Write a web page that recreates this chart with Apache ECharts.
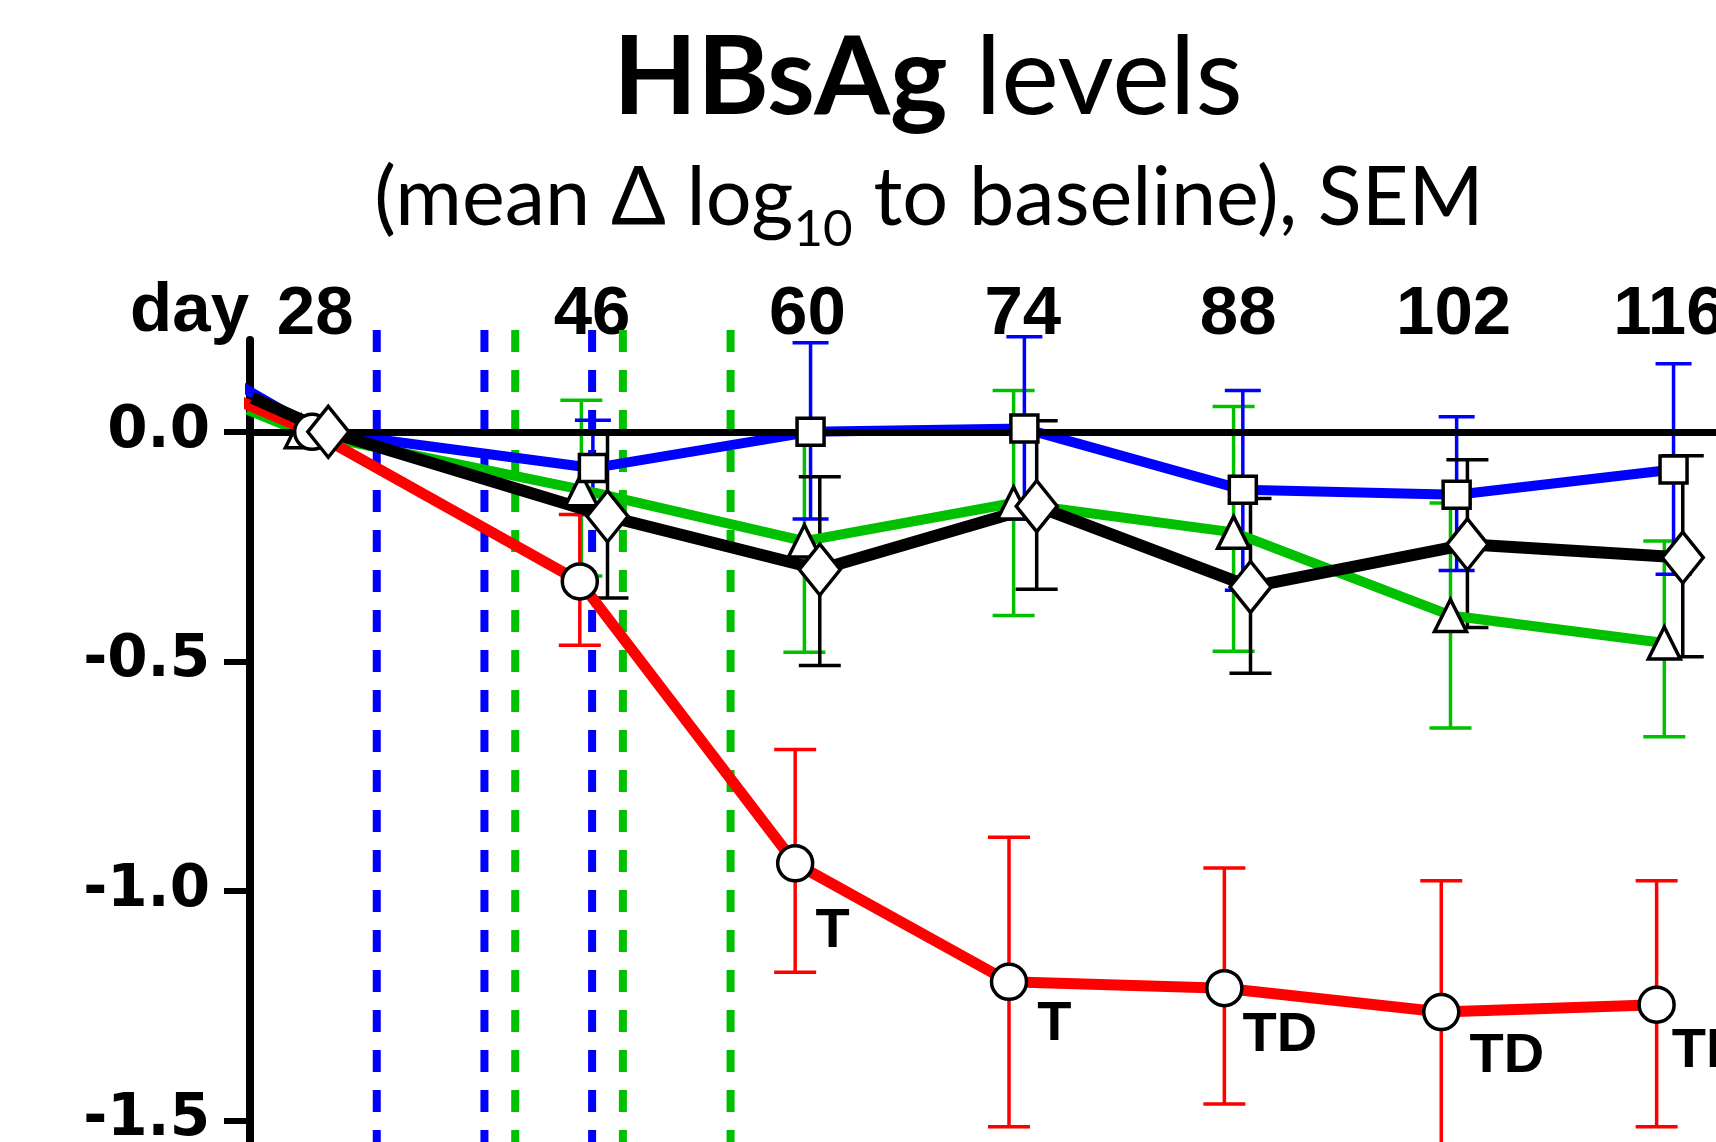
<!DOCTYPE html>
<html>
<head>
<meta charset="utf-8">
<style>
html, body { margin: 0; padding: 0; background: #fff; }
#chart { width: 1716px; height: 1142px; }
</style>
<script src="https://cdn.jsdelivr.net/npm/echarts@6.0.0/dist/echarts.min.js"></script>
</head>
<body>
<div id="chart"></div>
<script>
// ---- data ----
// day labels on the top axis
var dayTicks = [28, 46, 60, 74, 88, 102, 116];
// y labels + minor ticks
var yMajor = [0, -0.5, -1.0, -1.5];
var yMinor = [0.2, 0.1, -0.1, -0.2, -0.3, -0.4, -0.6, -0.7, -0.8, -0.9, -1.1, -1.2, -1.3, -1.4];

// vertical dashed lines (days)
var blueDashDays = [32, 39, 46];
var greenDashDays = [41, 48, 55];

// first point of every group is where the line comes in from the left (no marker)
var redX  = [23.2, 27.8, 45.2, 59.2, 73.1, 87.1, 101.2, 115.2];
var redY  = [0.065, 0, -0.326, -0.94, -1.198, -1.212, -1.264, -1.248];
var redHi = [null, null, -0.18, -0.692, -0.883, -0.95, -0.978, -0.978];
var redLo = [null, null, -0.465, -1.177, -1.514, -1.464, -1.56, -1.514];
var redTags = ['', '', '', 'T', 'T', 'TD', 'TD', 'TD'];

var blueX  = [23.0, 28.3, 46.05, 60.2, 74.1, 88.3, 102.2, 116.3];
var blueY  = [0.102, 0, -0.079, 0.0, 0.007, -0.126, -0.137, -0.082];
var blueHi = [null, null, 0.025, 0.194, 0.207, 0.09, 0.033, 0.148];
var blueLo = [null, null, -0.18, -0.19, -0.19, -0.345, -0.302, -0.31];

var greenX  = [23.6, 27.1, 45.3, 59.8, 73.4, 87.7, 101.8, 115.7];
var greenY  = [0.048, 0, -0.126, -0.238, -0.155, -0.219, -0.40, -0.46];
var greenHi = [null, null, 0.069, 0.0, 0.09, 0.055, -0.155, -0.238];
var greenLo = [null, null, -0.314, -0.48, -0.40, -0.478, -0.645, -0.664];

var blackX  = [23.9, 28.85, 47.0, 60.8, 74.9, 88.8, 102.9, 116.9];
var blackY  = [0.074, 0, -0.184, -0.30, -0.162, -0.338, -0.245, -0.274];
var blackHi = [null, null, -0.005, -0.098, 0.024, -0.145, -0.061, -0.052];
var blackLo = [null, null, -0.362, -0.509, -0.343, -0.526, -0.426, -0.49];

// ---- chart ----
var chart = echarts.init(document.getElementById('chart'));

var RED = '#ff0000', BLUE = '#0000ff', GREEN = '#00c000', BLACK = '#000000';
var tickFont = 'Liberation Sans';
var tagOffsets = [null, null, null, [1, 68], [9, 43], [-1, 47], [9, 44], [-4, 47]];

function pairs(xs, ys) {
  return xs.map(function (x, i) { return [x, ys[i]]; });
}

function dashSeries(day, color) {
  return {
    type: 'line', silent: true, clip: false, z: 1, symbol: 'none', animation: false,
    data: [[day, 0.222], [day, -1.6]],
    lineStyle: { color: color, width: 8, type: [22, 18], cap: 'butt' }
  };
}

function errSeries(xs, lo, hi, color, cap) {
  var data = [];
  for (var i = 0; i < xs.length; i++) {
    if (lo[i] != null) data.push([xs[i], lo[i], hi[i]]);
  }
  return {
    type: 'custom', silent: true, z: 3, animation: false,
    encode: { x: 0, y: [1, 2] },
    data: data,
    renderItem: function (params, api) {
      var x = api.value(0);
      var a = api.coord([x, api.value(1)]);
      var b = api.coord([x, api.value(2)]);
      var h = cap / 2;
      var st = { stroke: color, lineWidth: 3.5 };
      return {
        type: 'group',
        children: [
          { type: 'line', shape: { x1: a[0], y1: a[1], x2: b[0], y2: b[1] }, style: st },
          { type: 'line', shape: { x1: a[0] - h, y1: a[1], x2: a[0] + h, y2: a[1] }, style: st },
          { type: 'line', shape: { x1: b[0] - h, y1: b[1], x2: b[0] + h, y2: b[1] }, style: st }
        ]
      };
    }
  };
}

function lineSeries(xs, ys, color, width) {
  return {
    type: 'line', silent: true, clip: false, z: 4, symbol: 'none', animation: false,
    data: pairs(xs, ys),
    lineStyle: { color: color, width: width }
  };
}

function markSeries(xs, ys, symbol, size, tags) {
  var data = [];
  for (var i = 1; i < xs.length; i++) {
    var item = { value: [xs[i], ys[i]] };
    if (tags && tags[i]) {
      item.label = {
        show: true, formatter: tags[i], position: 'right', distance: 0,
        offset: tagOffsets[i], align: 'left', verticalAlign: 'middle',
        color: '#000', fontFamily: tickFont, fontWeight: 'bold', fontSize: 56
      };
    }
    data.push(item);
  }
  return {
    type: 'scatter', silent: true, clip: false, z: 5, animation: false,
    symbol: symbol, symbolSize: size,
    itemStyle: { color: '#fff', borderColor: '#000', borderWidth: 3.5, opacity: 1 },
    data: data
  };
}

var series = [];
blueDashDays.forEach(function (d) { series.push(dashSeries(d, BLUE)); });
greenDashDays.forEach(function (d) { series.push(dashSeries(d, GREEN)); });
// zero line
series[0].markLine = {
  silent: true, symbol: 'none', animation: false, label: { show: false },
  lineStyle: { color: '#000', width: 7, type: 'solid' },
  data: [{ yAxis: 0 }]
};

series.push(errSeries(greenX, greenLo, greenHi, GREEN, 42));
series.push(errSeries(blueX, blueLo, blueHi, BLUE, 36));
series.push(errSeries(blackX, blackLo, blackHi, BLACK, 42));
series.push(errSeries(redX, redLo, redHi, RED, 42));

series.push(lineSeries(greenX, greenY, GREEN, 10));
series.push(lineSeries(blueX, blueY, BLUE, 10));
series.push(lineSeries(redX, redY, RED, 11));
series.push(lineSeries(blackX, blackY, BLACK, 12));

series.push(markSeries(greenX, greenY, 'triangle', 32));
series.push(markSeries(blueX, blueY, 'rect', 27));
series.push(markSeries(redX, redY, 'circle', [35, 35], redTags));
series.push(markSeries(blackX, blackY, 'diamond', [41, 51]));

var option = {
  backgroundColor: '#fff',
  animation: false,
  grid: { left: 250, right: 0, top: 340, bottom: 0, containLabel: false, outerBoundsMode: 'none' },
  xAxis: {
    type: 'value', position: 'top', min: 23.76, max: 119.06,
    axisLine: { show: false }, axisTick: { show: false }, splitLine: { show: false },
    axisLabel: {
      customValues: dayTicks, margin: -9,
      color: '#000', fontFamily: tickFont, fontWeight: 'bold', fontSize: 69
    }
  },
  yAxis: [{
    type: 'value', min: -1.547, max: 0.2,
    axisLine: { show: true, lineStyle: { color: '#000', width: 8 } },
    axisTick: { show: true, customValues: yMajor, length: 26, lineStyle: { color: '#000', width: 6 } },
    splitLine: { show: false },
    axisLabel: {
      customValues: yMajor, margin: 40,
      formatter: function (v) { return v.toFixed(1); },
      color: '#000', fontFamily: 'DejaVu Sans', fontWeight: 'bold', fontSize: 58
    }
  }, {
    type: 'value', min: -1.547, max: 0.2,
    axisLine: { show: false },
    axisTick: { show: true, customValues: yMinor, length: 13, lineStyle: { color: '#000', width: 6 } },
    axisLabel: { show: false }, splitLine: { show: false }
  }],
  graphic: [
    {
      type: 'text', x: 928, y: 79, silent: true,
      style: {
        text: '{b|HBsAg}{r| levels}', align: 'center', verticalAlign: 'middle', fill: '#000',
        rich: {
          b: { fontFamily: 'Lato', fontWeight: 'bold', fontSize: 109, fill: '#000' },
          r: { fontFamily: 'Lato', fontWeight: 'normal', fontSize: 109, fill: '#000' }
        }
      }
    },
    {
      type: 'text', x: 929, y: 199, silent: true,
      style: {
        text: '{m|(mean \u0394 log}{s|10}{m| to baseline), SEM}', align: 'center', verticalAlign: 'middle', fill: '#000',
        rich: {
          m: { fontFamily: 'Lato', fontSize: 81, lineHeight: 96, fill: '#000' },
          s: { fontFamily: 'Lato', fontSize: 51, lineHeight: 96, padding: [62, 0, 0, 0], fill: '#000' }
        }
      }
    },
    {
      type: 'text', x: 249, y: 312, silent: true,
      style: {
        text: 'day', align: 'right', verticalAlign: 'middle', fill: '#000',
        fontFamily: tickFont, fontWeight: 'bold', fontSize: 69
      }
    }
  ],
  series: series
};

chart.setOption(option);
</script>
</body>
</html>
